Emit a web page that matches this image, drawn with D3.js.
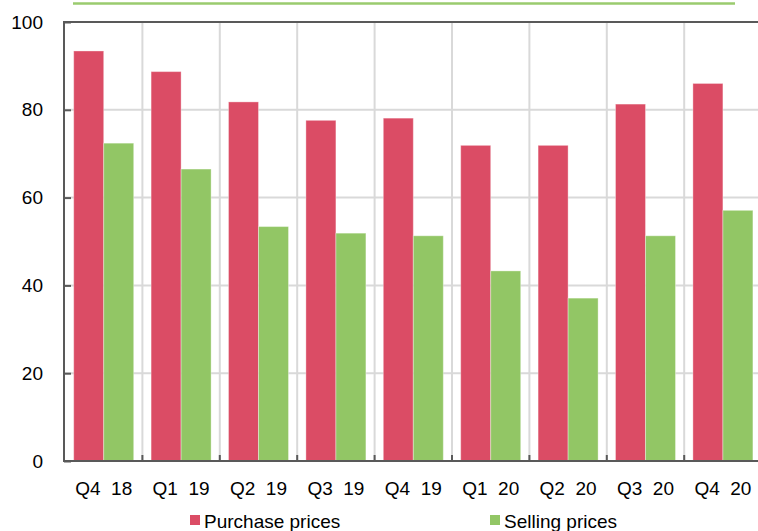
<!DOCTYPE html>
<html>
<head>
<meta charset="utf-8">
<script src="https://cdn.jsdelivr.net/npm/d3@7"></script>
<style>
  html, body { margin: 0; padding: 0; background: #fff; }
  svg { display: block; }
  text { font-family: "Liberation Sans", Arial, sans-serif; fill: #000; }
</style>
</head>
<body>
<svg id="chart" width="758" height="531"></svg>
<script>
// Quarterly survey balances (%)
const categories = ["Q4  18", "Q1  19", "Q2  19", "Q3  19", "Q4  19", "Q1  20", "Q2  20", "Q3  20", "Q4  20"];
const purchasePrices = [93.4, 88.7, 81.8, 77.6, 78.1, 71.9, 71.9, 81.3, 86.0];
const sellingPrices  = [72.4, 66.5, 53.4, 51.9, 51.3, 43.3, 37.1, 51.3, 57.1];
const seriesNames = ["Purchase prices", "Selling prices"];
const seriesColors = ["#DB4C65", "#92C665"];
const yTicks = [0, 20, 40, 60, 80, 100];

const svg = d3.select("#chart");
const plotLeft = 65, plotRight = 761.6, plotTop = 22, plotBottom = 461;

const x0 = d3.scaleBand().domain(categories).range([plotLeft, plotRight]).padding(0);
const x1 = d3.scaleBand().domain(seriesNames).range([0, x0.bandwidth()])
  .paddingInner(0).paddingOuter(0.29);
const y = d3.scaleLinear().domain([0, 100]).range([plotBottom, plotTop]);

// decorative rule above the chart
svg.append("line")
  .attr("x1", 73).attr("x2", 735).attr("y1", 3.5).attr("y2", 3.5)
  .attr("stroke", "#9ACB6E").attr("stroke-width", 2.5);

// horizontal gridlines
svg.append("g").selectAll("line")
  .data(yTicks.filter(d => d > 0 && d < 100))
  .join("line")
  .attr("x1", plotLeft).attr("x2", 758)
  .attr("y1", d => y(d)).attr("y2", d => y(d))
  .attr("stroke", "#D9D9D9").attr("stroke-width", 2);

// vertical gridlines between categories
svg.append("g").selectAll("line")
  .data(categories.slice(1))
  .join("line")
  .attr("x1", d => x0(d)).attr("x2", d => x0(d))
  .attr("y1", plotTop).attr("y2", plotBottom)
  .attr("stroke", "#D9D9D9").attr("stroke-width", 2);

// bars
const rows = categories.map((c, i) => ({ cat: c, values: [purchasePrices[i], sellingPrices[i]] }));
const groups = svg.append("g").selectAll("g")
  .data(rows)
  .join("g")
  .attr("transform", d => `translate(${x0(d.cat)},0)`);
groups.selectAll("rect")
  .data(d => d.values.map((v, j) => ({ name: seriesNames[j], value: v, color: seriesColors[j] })))
  .join("rect")
  .attr("x", d => x1(d.name))
  .attr("width", x1.bandwidth())
  .attr("y", d => y(d.value))
  .attr("height", d => y(0) - y(d.value))
  .attr("fill", d => d.color)
  .attr("stroke", "#fff").attr("stroke-opacity", 0.35).attr("stroke-width", 1);

// axes frame
const axisColor = "#595959";
svg.append("line").attr("x1", plotLeft - 1).attr("x2", 758).attr("y1", plotTop).attr("y2", plotTop)
  .attr("stroke", axisColor).attr("stroke-width", 2);
svg.append("line").attr("x1", plotLeft - 1).attr("x2", plotLeft - 1).attr("y1", plotTop - 1).attr("y2", plotBottom + 1)
  .attr("stroke", axisColor).attr("stroke-width", 2);
svg.append("line").attr("x1", plotLeft - 1).attr("x2", 758).attr("y1", plotBottom).attr("y2", plotBottom)
  .attr("stroke", axisColor).attr("stroke-width", 2);

// y ticks (inward) and labels
const yAxis = d3.axisLeft(y).tickValues(yTicks).tickSizeInner(-7).tickSizeOuter(0).tickPadding(21);
const yg = svg.append("g").attr("transform", `translate(${plotLeft - 1},0)`).call(yAxis);
yg.select(".domain").remove();
yg.selectAll(".tick line").attr("stroke", axisColor).attr("stroke-width", 2);
yg.selectAll(".tick text")
  .attr("font-size", 19).attr("font-family", "Liberation Sans, Arial, sans-serif")
  .attr("fill", "#000");

// x ticks at category boundaries (inward)
svg.append("g").selectAll("line")
  .data(categories.slice(1))
  .join("line")
  .attr("x1", d => x0(d)).attr("x2", d => x0(d))
  .attr("y1", plotBottom).attr("y2", plotBottom - 6)
  .attr("stroke", axisColor).attr("stroke-width", 2);

// category labels
svg.append("g").selectAll("text")
  .data(categories)
  .join("text")
  .attr("x", d => x0(d) + x0.bandwidth() / 2)
  .attr("y", 495)
  .attr("text-anchor", "middle")
  .attr("font-size", 19)
  .style("white-space", "pre")
  .text(d => d);

// legend
const legendItems = [
  { name: seriesNames[0], color: seriesColors[0], x: 190 },
  { name: seriesNames[1], color: seriesColors[1], x: 490 }
];
const lg = svg.append("g").selectAll("g").data(legendItems).join("g")
  .attr("transform", d => `translate(${d.x},0)`);
lg.append("rect").attr("x", 0).attr("y", 515).attr("width", 10).attr("height", 10)
  .attr("fill", d => d.color);
lg.append("text").attr("x", 14).attr("y", 528).attr("font-size", 19).text(d => d.name);
</script>
</body>
</html>
